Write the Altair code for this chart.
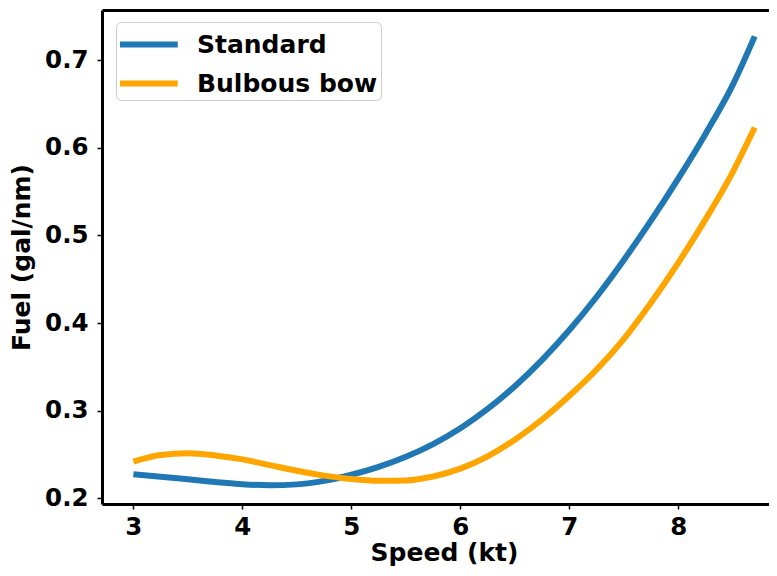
import altair as alt
import pandas as pd

speed = [3.0, 3.25, 3.5, 3.75, 4.0, 4.25, 4.5, 4.75, 5.0, 5.25, 5.5, 5.75,
         6.0, 6.25, 6.5, 6.75, 7.0, 7.25, 7.5, 7.75, 8.0, 8.25, 8.5, 8.7]
standard = [0.2275, 0.2248, 0.2218, 0.2188, 0.2162, 0.2150, 0.2160, 0.2200,
            0.2270, 0.2360, 0.2475, 0.2620, 0.2800, 0.3020, 0.3280, 0.3580,
            0.3920, 0.4300, 0.4720, 0.5170, 0.5650, 0.6160, 0.6720, 0.7270]
bulbous = [0.2420, 0.2495, 0.2515, 0.2490, 0.2445, 0.2380, 0.2315, 0.2260,
           0.2220, 0.2200, 0.2205, 0.2250, 0.2340, 0.2480, 0.2670, 0.2900,
           0.3170, 0.3470, 0.3820, 0.4235, 0.4690, 0.5185, 0.5725, 0.6230]
series_names = ["Standard", "Bulbous bow"]
series_colors = ["#1f77b4", "#ffa500"]
x_ticks = [3, 4, 5, 6, 7, 8]
y_ticks = [0.2, 0.3, 0.4, 0.5, 0.6, 0.7]

rows = []
for s, ys in zip(series_names, [standard, bulbous]):
    for x, y in zip(speed, ys):
        rows.append({"speed": x, "fuel": y, "series": s})
df = pd.DataFrame(rows)

FONT = "DejaVu Sans"
xscale = alt.Scale(domain=[2.712, 8.8313], nice=False, zero=False)
yscale = alt.Scale(domain=[0.19361, 0.75703], nice=False, zero=False)

y_enc = alt.Y("fuel:Q", scale=yscale,
              axis=alt.Axis(values=y_ticks, format=".1f", title="Fuel (gal/nm)",
                            titlePadding=10, labelPadding=9))

lines = alt.Chart(df).mark_line(strokeWidth=6, interpolate="monotone", clip=True).encode(
    x=alt.X("speed:Q", scale=xscale,
            axis=alt.Axis(values=x_ticks, format="d", title="Speed (kt)",
                          titlePadding=2, labelPadding=6, titleX=342)),
    y=y_enc,
    color=alt.Color("series:N",
                    scale=alt.Scale(domain=series_names, range=series_colors),
                    sort=series_names,
                    legend=alt.Legend(
                        title=None, orient="none", legendX=14, legendY=12,
                        padding=3, strokeColor="#cccccc", fillColor="white",
                        cornerRadius=5, symbolType="M-1.12,0H2.38",
                        symbolSize=1089, symbolStrokeWidth=6,
                        labelFontSize=25, labelFontWeight="bold", labelFont=FONT,
                        labelColor="black", labelOffset=39, labelLimit=400,
                        rowPadding=6)),
)

top_frame = alt.Chart(df).mark_line(opacity=0).encode(
    x=alt.X("speed:Q", scale=xscale,
            axis=alt.Axis(orient="top", labels=False, ticks=False, title=None,
                          domain=True)),
    y=y_enc,
    detail="series:N",
)

chart = alt.layer(lines, top_frame).resolve_axis(x="independent").properties(
    width=667, height=494,
    autosize=alt.AutoSizeParams(type="none"),
    padding={"left": 94, "top": 2, "right": 0, "bottom": 64},
).configure_view(stroke=None).configure_axis(
    grid=False,
    domainColor="black", domainWidth=3,
    tickColor="black", tickWidth=1.5, tickSize=5,
    labelFont=FONT, labelFontSize=24.5, labelFontWeight="bold", labelColor="black",
    titleFont=FONT, titleFontSize=25, titleFontWeight="bold", titleColor="black",
)

chart.save("out.html", embed_options={"renderer": "svg", "actions": False})
